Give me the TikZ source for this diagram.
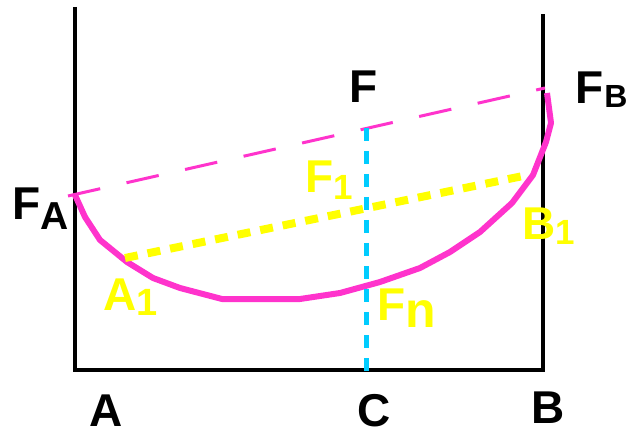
\documentclass[tikz,border=0pt]{standalone}
\usepackage{fontspec}
\setmainfont{Liberation Sans}
\definecolor{pinkc}{HTML}{FF33CC}
\definecolor{yellowc}{HTML}{FFFF00}
\definecolor{cyanc}{HTML}{00CCFF}
\tikzset{
  frame/.style={line width=3.5pt, black},
  chord/.style={pinkc, line width=3pt, dash pattern=on 33pt off 27pt},
  ychord/.style={yellowc, line width=8pt, dash pattern=on 13pt off 10pt},
  cline/.style={cyanc, line width=5pt, dash pattern=on 13pt off 10pt},
  curve/.style={pinkc, line width=6pt, line join=round},
  lbl/.style={inner sep=0pt, anchor=base west, font=\bfseries\fontsize{46}{46}\selectfont},
}
\newcommand{\sbs}[3]{\raisebox{-#1pt}{\fontsize{#2}{#2}\selectfont #3}}
\begin{document}
\begin{tikzpicture}[x=1pt,y=-1pt]
\useasboundingbox (0,0) rectangle (636,435);
% coordinates
\coordinate (TL) at (75,7);
\coordinate (BL) at (75,370);
\coordinate (BR) at (543,370);
\coordinate (TR) at (543,14);
\coordinate (FAd) at (68,196);
\coordinate (FBd) at (545,88);
\coordinate (A1) at (125,258);
\coordinate (B1) at (523,176);
\coordinate (Ft) at (366,128);
\coordinate (Cb) at (366,372);
% frame
\draw[frame] (TL) -- (BL) -- (BR) -- (TR);
% dashed chord
\draw[chord] (FAd) -- (FBd);
% curve
\draw[curve] (75,195) -- (85,217) -- (100,240) -- (127,262) -- (153,278) -- (180,288) -- (222,299) -- (300,299) -- (340,293) -- (380,282) -- (420,268) -- (450,252) -- (480,232) -- (512,203) -- (533,175) -- (546,142) -- (551,123) -- (547,93);
% yellow chord
\draw[ychord] (A1) -- (B1);
% cyan
\draw[cline] (Ft) -- (Cb);
% labels
\node[lbl] (lF) at (349,103) {F};
\node[lbl] (lFA) at (12,220) {F\sbs{10}{39}{A}};
\node[lbl] (lFB) at (575,104) {F\kern1pt\sbs{4}{32}{B}};
\node[lbl] (lA) at (89,426) {A};
\node[lbl] (lC) at (357,426) {C};
\node[lbl] (lB) at (531,423) {B};
\node[lbl, text=yellowc] (lA1) at (103,310) {A\sbs{5}{38}{1}};
\node[lbl, text=yellowc] (lF1) at (305,193) {F\sbs{7}{35}{1}};
\node[lbl, text=yellowc] (lB1) at (522,240) {B\sbs{5}{35}{1}};
\node[lbl, text=yellowc] (lFn) at (377,320) {F\sbs{7}{50}{n}};
\end{tikzpicture}
\end{document}
